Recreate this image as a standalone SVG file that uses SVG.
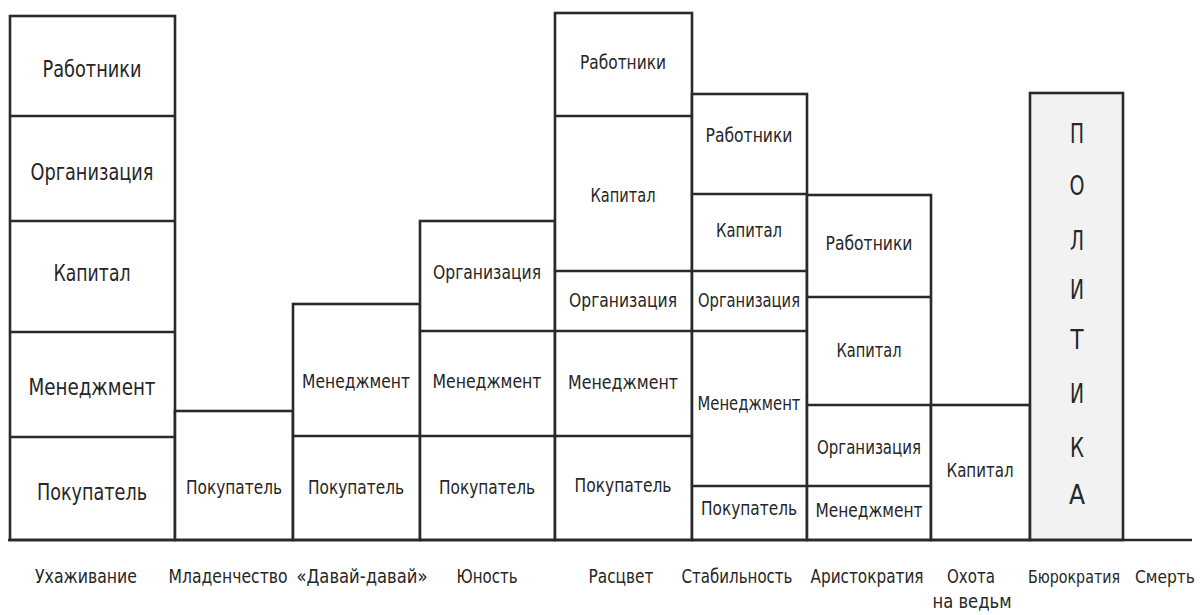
<svg xmlns="http://www.w3.org/2000/svg" width="1200" height="615" viewBox="0 0 1200 615">
  <style>
    .box { fill: #ffffff; stroke: #2a2a2a; stroke-width: 2.6; }
    .pol { fill: #f2f2f2; stroke: #2a2a2a; stroke-width: 2.6; }
    .div { stroke: #2a2a2a; stroke-width: 2.6; fill: none; }
    text { font-family: "Liberation Sans Narrow", "DejaVu Sans Condensed", "Liberation Sans", sans-serif; fill: #262626; text-anchor: middle; dominant-baseline: central; }
    .big { font-size: 23px; }
    .sm { font-size: 19.5px; }
    .lbl { font-size: 19.5px; }
    .tight { font-size: 18px; }
    .let { font-size: 27px; }
  </style>

  <!-- Ухаживание -->
  <g id="courtship">
    <rect class="box" x="10" y="16" width="165" height="524"/>
    <path class="div" d="M10 116H175M10 221H175M10 332H175M10 437H175"/>
    <text class="big" x="92" y="69" textLength="99" lengthAdjust="spacingAndGlyphs">Работники</text>
    <text class="big" x="92" y="172" textLength="123" lengthAdjust="spacingAndGlyphs">Организация</text>
    <text class="big" x="92" y="273" textLength="77" lengthAdjust="spacingAndGlyphs">Капитал</text>
    <text class="big" x="92" y="387" textLength="127" lengthAdjust="spacingAndGlyphs">Менеджмент</text>
    <text class="big" x="92" y="492" textLength="110" lengthAdjust="spacingAndGlyphs">Покупатель</text>
  </g>

  <!-- Младенчество -->
  <g id="infancy">
    <rect class="box" x="175" y="411" width="118" height="129"/>
    <text class="sm" x="234" y="487" textLength="96" lengthAdjust="spacingAndGlyphs">Покупатель</text>
  </g>

  <!-- «Давай-давай» -->
  <g id="gogo">
    <rect class="box" x="293" y="304" width="127" height="236"/>
    <path class="div" d="M293 436H420"/>
    <text class="sm" x="356" y="381" textLength="108" lengthAdjust="spacingAndGlyphs">Менеджмент</text>
    <text class="sm" x="356" y="487" textLength="96" lengthAdjust="spacingAndGlyphs">Покупатель</text>
  </g>

  <!-- Юность -->
  <g id="adolescence">
    <rect class="box" x="420" y="221" width="135" height="319"/>
    <path class="div" d="M420 331H555M420 436H555"/>
    <text class="sm" x="487" y="272" textLength="108" lengthAdjust="spacingAndGlyphs">Организация</text>
    <text class="sm" x="487" y="381" textLength="109" lengthAdjust="spacingAndGlyphs">Менеджмент</text>
    <text class="sm" x="487" y="487" textLength="96" lengthAdjust="spacingAndGlyphs">Покупатель</text>
  </g>

  <!-- Расцвет -->
  <g id="prime">
    <rect class="box" x="555" y="13" width="137" height="527"/>
    <path class="div" d="M555 116H692M555 271H692M555 331H692M555 436H692"/>
    <text class="sm" x="623" y="62" textLength="86" lengthAdjust="spacingAndGlyphs">Работники</text>
    <text class="sm" x="623" y="195" textLength="65" lengthAdjust="spacingAndGlyphs">Капитал</text>
    <text class="sm" x="623" y="300" textLength="108" lengthAdjust="spacingAndGlyphs">Организация</text>
    <text class="sm" x="623" y="382" textLength="110" lengthAdjust="spacingAndGlyphs">Менеджмент</text>
    <text class="sm" x="623" y="485" textLength="97" lengthAdjust="spacingAndGlyphs">Покупатель</text>
  </g>

  <!-- Стабильность -->
  <g id="stability">
    <rect class="box" x="692" y="94" width="115" height="446"/>
    <path class="div" d="M692 194H807M692 271H807M692 331H807M692 486H807"/>
    <text class="sm" x="749" y="135" textLength="87" lengthAdjust="spacingAndGlyphs">Работники</text>
    <text class="sm" x="749" y="230" textLength="66" lengthAdjust="spacingAndGlyphs">Капитал</text>
    <text class="sm" x="749" y="300" textLength="102" lengthAdjust="spacingAndGlyphs">Организация</text>
    <text class="sm" x="749" y="403" textLength="103" lengthAdjust="spacingAndGlyphs">Менеджмент</text>
    <text class="sm" x="749" y="508" textLength="96" lengthAdjust="spacingAndGlyphs">Покупатель</text>
  </g>

  <!-- Аристократия -->
  <g id="aristocracy">
    <rect class="box" x="807" y="195" width="124" height="345"/>
    <path class="div" d="M807 297H931M807 405H931M807 486H931"/>
    <text class="sm" x="869" y="243" textLength="87" lengthAdjust="spacingAndGlyphs">Работники</text>
    <text class="sm" x="869" y="350" textLength="65" lengthAdjust="spacingAndGlyphs">Капитал</text>
    <text class="sm" x="869" y="447" textLength="104" lengthAdjust="spacingAndGlyphs">Организация</text>
    <text class="sm" x="869" y="510" textLength="107" lengthAdjust="spacingAndGlyphs">Менеджмент</text>
  </g>

  <!-- Охота на ведьм -->
  <g id="witch-hunt">
    <rect class="box" x="931" y="405" width="99" height="135"/>
    <text class="sm" x="980" y="470" textLength="67" lengthAdjust="spacingAndGlyphs">Капитал</text>
  </g>

  <!-- Бюрократия: вертикальная надпись -->
  <g id="bureaucracy">
    <rect class="pol" x="1030" y="93" width="93" height="447"/>
    <text class="let" x="1077" y="133" textLength="14" lengthAdjust="spacingAndGlyphs">П</text>
    <text class="let" x="1077" y="185" textLength="15" lengthAdjust="spacingAndGlyphs">О</text>
    <text class="let" x="1077" y="240" textLength="14" lengthAdjust="spacingAndGlyphs">Л</text>
    <text class="let" x="1077" y="289" textLength="14" lengthAdjust="spacingAndGlyphs">И</text>
    <text class="let" x="1077" y="339" textLength="13" lengthAdjust="spacingAndGlyphs">Т</text>
    <text class="let" x="1077" y="393" textLength="14" lengthAdjust="spacingAndGlyphs">И</text>
    <text class="let" x="1077" y="447" textLength="14" lengthAdjust="spacingAndGlyphs">К</text>
    <text class="let" x="1077" y="494" textLength="16" lengthAdjust="spacingAndGlyphs">А</text>
  </g>

  <!-- base line -->
  <g id="connectors">
    <path class="div" d="M8 540H1192"/>
  </g>

  <!-- stage names -->
  <g id="stages">
    <text class="lbl" x="86" y="576" textLength="102" lengthAdjust="spacingAndGlyphs">Ухаживание</text>
    <text class="lbl" x="228" y="576" textLength="119" lengthAdjust="spacingAndGlyphs">Младенчество</text>
    <text class="lbl" x="362" y="576" textLength="131" lengthAdjust="spacingAndGlyphs">«Давай-давай»</text>
    <text class="lbl" x="487" y="576" textLength="61" lengthAdjust="spacingAndGlyphs">Юность</text>
    <text class="lbl" x="621" y="576" textLength="65" lengthAdjust="spacingAndGlyphs">Расцвет</text>
    <text class="lbl" x="737" y="576" textLength="111" lengthAdjust="spacingAndGlyphs">Стабильность</text>
    <text class="lbl" x="867" y="576" textLength="113" lengthAdjust="spacingAndGlyphs">Аристократия</text>
    <text class="lbl" x="971" y="576" textLength="48" lengthAdjust="spacingAndGlyphs">Охота</text>
    <text class="lbl" x="972" y="601" textLength="79" lengthAdjust="spacingAndGlyphs">на ведьм</text>
    <text class="lbl tight" x="1074" y="576" textLength="92" lengthAdjust="spacingAndGlyphs">Бюрократия</text>
    <text class="lbl tight" x="1165" y="576" textLength="60" lengthAdjust="spacingAndGlyphs">Смерть</text>
  </g>
</svg>
